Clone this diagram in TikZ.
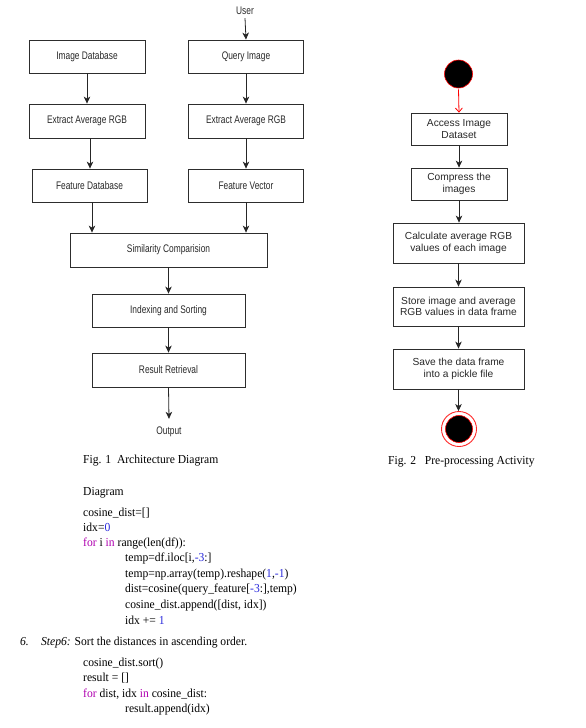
\documentclass[tikz,border=0pt]{standalone}
\usepackage{fontspec}
\setmainfont{Liberation Serif}
\newfontfamily\lsans[FakeStretch=0.76]{Liberation Sans}
\newfontfamily\rsans{Liberation Sans}
\newfontfamily\capserif[FakeStretch=0.95]{Liberation Serif}
\usetikzlibrary{arrows.meta,calc}
\definecolor{kwcol}{RGB}{175,0,175}
\definecolor{numcol}{RGB}{40,40,220}
\definecolor{edgecol}{RGB}{45,45,45}
\definecolor{txtcol}{RGB}{40,40,40}
\newcommand{\kw}[1]{\textcolor{kwcol}{#1}}
\newcommand{\nm}[1]{\textcolor{numcol}{#1}}
\begin{document}
\begin{tikzpicture}[x=1pt,y=-1pt,
  abox/.style={draw=edgecol,line width=0.8pt,inner sep=0pt,text=txtcol,font=\lsans\fontsize{11}{12}\selectfont},
  rbox/.style={draw=edgecol,line width=0.8pt,inner sep=0pt,align=center,text=txtcol,font=\rsans\fontsize{10.2}{11.7}\selectfont},
  arr/.style={draw=black!85,line width=0.8pt,-{Stealth[length=7pt,width=6.5pt,inset=2pt]}},
  redarr/.style={draw=red,line width=0.8pt,-{Straight Barb[length=4pt,width=7pt]}},
  lbl/.style={inner sep=0pt,text=txtcol,font=\lsans\fontsize{11}{12}\selectfont},
  codeline/.style={anchor=base west,inner sep=0pt,font=\capserif\fontsize{12.2}{14}\selectfont},
  capt/.style={anchor=base west,inner sep=0pt,font=\capserif\fontsize{12.2}{14}\selectfont}
]
\useasboundingbox (0,0) rectangle (586,728);

% ---------- Fig. 1 ----------
\node[lbl] (user) at (245,11) {User};
\node[abox,minimum width=116pt,minimum height=33pt] (idb) at (87,56.5) {Image Database};
\node[abox,minimum width=115pt,minimum height=33pt] (qimg) at (246,56.5) {Query Image};
\node[abox,minimum width=116pt,minimum height=34pt] (ex1) at (87,121) {Extract Average RGB};
\node[abox,minimum width=115pt,minimum height=34pt] (ex2) at (246,121) {Extract Average RGB};
\node[abox,minimum width=115pt,minimum height=33pt] (fdb) at (89.5,185.5) {Feature Database};
\node[abox,minimum width=115pt,minimum height=33pt] (fv) at (246,185.5) {Feature Vector};
\node[abox,minimum width=197pt,minimum height=34pt] (sim) at (168.5,250) {Similarity Comparision};
\node[abox,minimum width=153pt,minimum height=33pt] (ids) at (168.5,310.5) {Indexing and Sorting};
\node[abox,minimum width=153pt,minimum height=34pt] (res) at (168.5,370) {Result Retrieval};
\node[lbl] (out) at (169,432) {Output};

\draw[arr] ([yshift=-3pt]user.south) -- (qimg.north);
\draw[arr] (idb.south) -- (ex1.north);
\draw[arr] (qimg.south) -- (ex2.north);
\draw[arr] ([xshift=3pt]ex1.south) -- ([xshift=3pt]ex1.south |- fdb.north);
\draw[arr] (ex2.south) -- (fv.north);
\draw[arr] ([xshift=2.5pt]fdb.south) -- ([xshift=2.5pt]fdb.south |- sim.north);
\draw[arr] (fv.south) -- (fv.south |- sim.north);
\draw[arr] (sim.south) -- (ids.north);
\draw[arr] (ids.south) -- (res.north);
\draw[arr] (res.south) -- ([yshift=8pt]out.north);

\node[capt] (cap1) at (83,463) {Fig. 1\ \ Architecture Diagram};

% ---------- Fig. 2 ----------
\node[circle,fill=black,draw=red,line width=0.6pt,minimum size=28pt,inner sep=0pt] (start) at (458.5,74) {};
\node[rbox,minimum width=96pt,minimum height=32pt] (acc) at (459,129) {Access Image\\Dataset};
\node[rbox,minimum width=96pt,minimum height=32pt] (cmp) at (459,184) {Compress the\\images};
\node[rbox,minimum width=131pt,minimum height=40pt] (calc) at (458.5,243) {Calculate average RGB\\values of each image};
\node[rbox,minimum width=131pt,minimum height=39pt] (store) at (458.5,306.5) {Store image and average\\RGB values in data frame};
\node[rbox,minimum width=131pt,minimum height=40pt] (save) at (458.5,369) {Save the data frame\\into a pickle file};
\node[circle,draw=red!85,line width=0.9pt,minimum size=35pt,inner sep=0pt] (endo) at (459,429) {};
\node[circle,fill=black,draw=red,line width=0.6pt,minimum size=27pt,inner sep=0pt] (endi) at (459,429) {};

\draw[redarr] ([yshift=-1pt]start.south) -- (acc.north);
\draw[arr] (acc.south -| cmp.north) -- (cmp.north);
\draw[arr] (cmp.south) -- (cmp.south |- calc.north);
\draw[arr] (calc.south) -- (store.north);
\draw[arr] (store.south) -- (save.north);
\draw[arr] (save.south) -- (save.south |- endo.north);

\node[capt] (cap2) at (388,464) {Fig. 2\ \ \ Pre-processing Activity};

% ---------- Code ----------
\node[codeline] (c0) at (83,495) {Diagram};
\node[codeline] (c1) at (83,516) {cosine\_dist=[]};
\node[codeline] (c2) at (83,531) {idx=\nm{0}};
\node[codeline] (c3) at (83,546) {\kw{for} i \kw{in} range(len(df)):};
\node[codeline] (c4) at (125,561.5) {temp=df.iloc[i,\nm{-3}:]};
\node[codeline] (c5) at (125,577) {temp=np.array(temp).reshape(\nm{1},\nm{-1})};
\node[codeline] (c6) at (125,592) {dist=cosine(query\_feature[\nm{-3}:],temp)};
\node[codeline] (c7) at (125,608) {cosine\_dist.append([dist, idx])};
\node[codeline] (c8) at (125,624.5) {idx += \nm{1}};
\node[codeline] (s6n) at (20,645.5) {\itshape 6.};
\node[codeline] (s6) at (41,645.5) {\textit{Step6:} Sort the distances in ascending order.};
\node[codeline] (d1) at (83,666) {cosine\_dist.sort()};
\node[codeline] (d2) at (83,681) {result = []};
\node[codeline] (d3) at (83,697) {\kw{for} dist, idx \kw{in} cosine\_dist:};
\node[codeline] (d4) at (125,712) {result.append(idx)};
\end{tikzpicture}
\end{document}
